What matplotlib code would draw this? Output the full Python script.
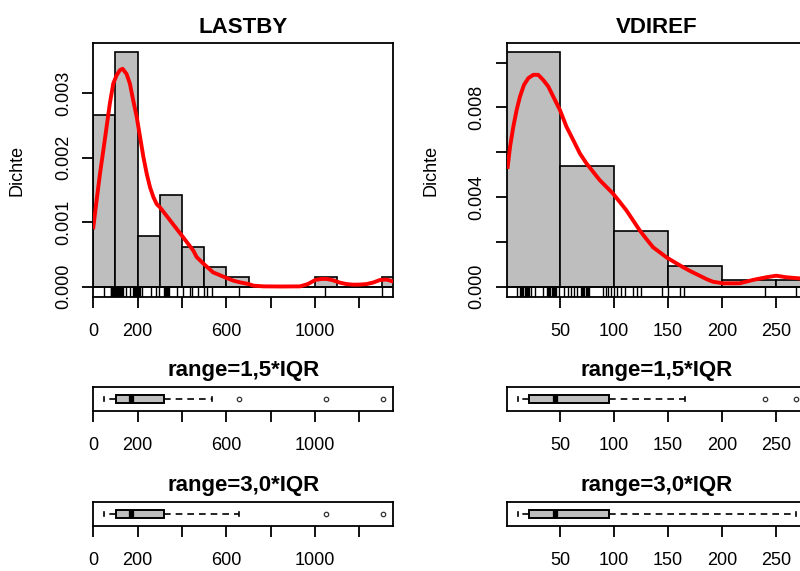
import matplotlib
matplotlib.use('Agg')
import matplotlib.pyplot as plt
import numpy as np

plt.rcParams['font.family'] = ['Liberation Sans', 'DejaVu Sans']

# ---------------- data ----------------
titles = ["LASTBY", "VDIREF"]
box_titles = ["range=1,5*IQR", "range=3,0*IQR"]
ylabel = "Dichte"

# LASTBY histogram (density)
lastby_breaks = [0, 100, 200, 300, 400, 500, 600, 700, 800, 900, 1000, 1100, 1200, 1300, 1400]
lastby_density = [0.00267, 0.003635, 0.00078, 0.00142, 0.00061, 0.00031, 0.000145,
                  0, 0, 0, 0.000145, 0, 0, 0.000145]
lastby_kde_x = [0, 15, 30, 45, 60, 75, 90, 105, 120, 132, 150, 165, 180, 196, 211, 226,
                241, 256, 271, 286, 301, 346, 400, 451, 466, 499, 541, 556, 601, 632,
                662, 701, 722, 767, 850, 932, 967, 1002, 1030, 1053, 1080, 1113, 1143,
                1173, 1203, 1233, 1263, 1293, 1323, 1353]
lastby_kde_y = [0.00092, 0.00134, 0.00175, 0.00211, 0.00248, 0.00285, 0.00315, 0.00328,
                0.00336, 0.00338, 0.00330, 0.00315, 0.00289, 0.00263, 0.00232, 0.00201,
                0.00175, 0.00154, 0.00139, 0.00128, 0.00123, 0.00103, 0.00079, 0.00056,
                0.00046, 0.00035, 0.00022, 0.00020, 0.000135, 0.000093, 0.000067,
                0.000041, 0.000016, 0.000005, 0.000003, 0.000005, 0.00004, 0.000105,
                0.00012, 0.00012, 0.0001, 0.000062, 0.00004, 0.000031, 0.000033,
                0.000041, 0.000065, 0.000104, 0.00011, 0.00008]
lastby_rug = [48, 78, 82, 86, 90, 94, 98, 102, 106, 110, 114, 118, 122, 126, 130, 135,
              147, 166, 180, 184, 188, 192, 196, 200, 204, 208, 212, 218, 260, 281, 296,
              319, 323, 327, 331, 335, 339, 343, 379, 406, 436, 444, 474, 498, 511, 534,
              659, 1045, 1301]
lastby_xticks = [0, 200, 400, 600, 800, 1000, 1200]
lastby_xticklabels = ["0", "200", "", "600", "", "1000", ""]
lastby_yticks = [0.000, 0.001, 0.002, 0.003]
lastby_yticklabels = ["0.000", "0.001", "0.002", "0.003"]
# boxplot stats: whislo, q1, med, q3, whishi
lastby_box_15 = [50, 102, 169, 320, 536]
lastby_out_15 = [656, 1050, 1308]
lastby_box_30 = [50, 102, 169, 320, 656]
lastby_out_30 = [1050, 1308]

# VDIREF histogram (density)
vdiref_breaks = [0, 50, 100, 150, 200, 250, 300]
vdiref_density = [0.01046, 0.00539, 0.00249, 0.00094, 0.0003, 0.0003]
vdiref_kde_x = [1.4, 3.6, 6.6, 9.7, 12.8, 16.5, 20.5, 25.1, 29.7, 34.3, 39, 43.6, 49.8,
                55.9, 62.1, 68.3, 74.5, 80.6, 86.7, 92.9, 99, 105.2, 111.4, 117.5, 123.7,
                129.8, 136, 142.1, 148.4, 156, 163.8, 171.5, 179.2, 185.4, 191.5, 200.8,
                216.2, 228.5, 240.9, 250.1, 259.4, 271.7, 279]
vdiref_kde_y = [0.00534, 0.00624, 0.00713, 0.00788, 0.00848, 0.00900, 0.00930, 0.00945,
                0.00945, 0.00922, 0.00893, 0.00848, 0.00788, 0.00713, 0.00654, 0.00594,
                0.00549, 0.00512, 0.00475, 0.00445, 0.00415, 0.00378, 0.00340, 0.00296,
                0.00251, 0.00213, 0.00176, 0.00154, 0.00131, 0.00109, 0.00087, 0.00067,
                0.00049, 0.00034, 0.00022, 0.00015, 0.00015, 0.00030, 0.00042, 0.00049,
                0.00042, 0.00037, 0.00035]
vdiref_rug = [10, 13, 14, 15, 16, 17, 18, 19, 20, 21, 23, 27, 34, 38, 39, 40, 41, 42, 43,
              44, 45, 46, 49, 53.5, 57, 60, 63, 65.5, 69.5, 70.5, 71.5, 72.5, 73.5, 74.5,
              75.5, 76.5, 89.5, 92.5, 94.5, 97, 100, 103, 106, 110.5, 117.5, 121.5, 124.5,
              144, 150, 160.7, 165, 240, 268]
vdiref_xticks = [50, 100, 150, 200, 250]
vdiref_xticklabels = ["50", "100", "150", "200", "250"]
vdiref_yticks = [0.000, 0.002, 0.004, 0.006, 0.008, 0.010]
vdiref_yticklabels = ["0.000", "", "0.004", "", "0.008", ""]
vdiref_box_15 = [11, 21, 45, 95, 166]
vdiref_out_15 = [240, 268]
vdiref_box_30 = [11, 21, 45, 95, 268]
vdiref_out_30 = []

# ---------------- layout ----------------
W, H = 800, 571
fig = plt.figure(figsize=(W / 100, H / 100), dpi=100)
fig.patch.set_facecolor('white')

GREY = '#BEBEBE'
TICKFS = 13
TITLEFS = 16
LW = 1.3


def px_axes(x0, y0, x1, y1):
    return fig.add_axes([x0 / W, 1 - y1 / H, (x1 - x0) / W, (y1 - y0) / H])


def style_axes(ax):
    for s in ax.spines.values():
        s.set_linewidth(LW)
    ax.tick_params(axis='x', direction='out', length=8, width=LW, labelsize=TICKFS, pad=10.5)
    ax.tick_params(axis='y', direction='out', length=8, width=LW, labelsize=TICKFS, pad=7.5)


def draw_hist(ax, breaks, dens, kx, ky, rug, xlim, ylim, xt, xtl, yt, ytl, title):
    edges = np.array(breaks, dtype=float)
    ax.bar(edges[:-1], dens, width=np.diff(edges), align='edge', color=GREY,
           edgecolor='black', linewidth=1.2, zorder=2)
    ax.axhline(0, color='black', linewidth=1.2, zorder=3)
    ax.vlines(rug, ylim[0], 0, color='black', linewidth=1.0, zorder=3)
    ax.plot(kx, ky, color='red', linewidth=2.8, zorder=4, solid_joinstyle='round')
    ax.set_xlim(*xlim)
    ax.set_ylim(*ylim)
    ax.set_xticks(xt)
    ax.set_xticklabels(xtl)
    ax.set_yticks(yt)
    ax.set_yticklabels(ytl, rotation=90, va='center')
    ax.set_title(title, fontsize=TITLEFS, fontweight='bold', pad=7)
    style_axes(ax)


def draw_box(ax, stats, outliers, xlim, xt, xtl, title):
    st = [dict(whislo=stats[0], q1=stats[1], med=stats[2], q3=stats[3], whishi=stats[4],
               fliers=outliers)]
    ax.bxp(st, positions=[1], widths=0.36, vert=False, patch_artist=True,
           boxprops=dict(facecolor=GREY, edgecolor='black', linewidth=1.4),
           medianprops=dict(color='black', linewidth=3.8, solid_capstyle='butt'),
           whiskerprops=dict(color='black', linewidth=1.2, linestyle=(0, (4, 3))),
           capprops=dict(color='black', linewidth=1.2),
           flierprops=dict(marker='o', markersize=3.2, markerfacecolor='none',
                           markeredgecolor='#333333', markeredgewidth=0.9),
           capwidths=[0.18])
    ax.set_xlim(*xlim)
    ax.set_ylim(0.46, 1.54)
    ax.set_yticks([])
    ax.set_xticks(xt)
    ax.set_xticklabels(xtl)
    ax.set_title(title, fontsize=TITLEFS, fontweight='bold', pad=8)
    style_axes(ax)


cols = [
    dict(x0=93.3, breaks=lastby_breaks, dens=lastby_density, kx=lastby_kde_x, ky=lastby_kde_y,
         rug=lastby_rug, xlim=(0, 1353), ylim=(-0.00016, 0.00378),
         xt=lastby_xticks, xtl=lastby_xticklabels, yt=lastby_yticks, ytl=lastby_yticklabels,
         title=titles[0], b15=lastby_box_15, o15=lastby_out_15, b30=lastby_box_30, o30=lastby_out_30),
    dict(x0=506.7, breaks=vdiref_breaks, dens=vdiref_density, kx=vdiref_kde_x, ky=vdiref_kde_y,
         rug=vdiref_rug, xlim=(0.5, 278.3), ylim=(-0.00046, 0.01087),
         xt=vdiref_xticks, xtl=vdiref_xticklabels, yt=vdiref_yticks, ytl=vdiref_yticklabels,
         title=titles[1], b15=vdiref_box_15, o15=vdiref_out_15, b30=vdiref_box_30, o30=vdiref_out_30),
]

for c in cols:
    x0 = c['x0']
    axh = px_axes(x0, 43, x0 + 300, 297)
    draw_hist(axh, c['breaks'], c['dens'], c['kx'], c['ky'], c['rug'], c['xlim'], c['ylim'],
              c['xt'], c['xtl'], c['yt'], c['ytl'], c['title'])
    fig.text((x0 - 76) / W, 1 - 170 / H, ylabel, rotation=90, ha='center', va='center',
             fontsize=TICKFS)
    axb1 = px_axes(x0, 387, x0 + 300, 411)
    draw_box(axb1, c['b15'], c['o15'], c['xlim'], c['xt'], c['xtl'], box_titles[0])
    axb2 = px_axes(x0, 502, x0 + 300, 526)
    draw_box(axb2, c['b30'], c['o30'], c['xlim'], c['xt'], c['xtl'], box_titles[1])

fig.savefig('out.png', dpi=100, facecolor='white')
